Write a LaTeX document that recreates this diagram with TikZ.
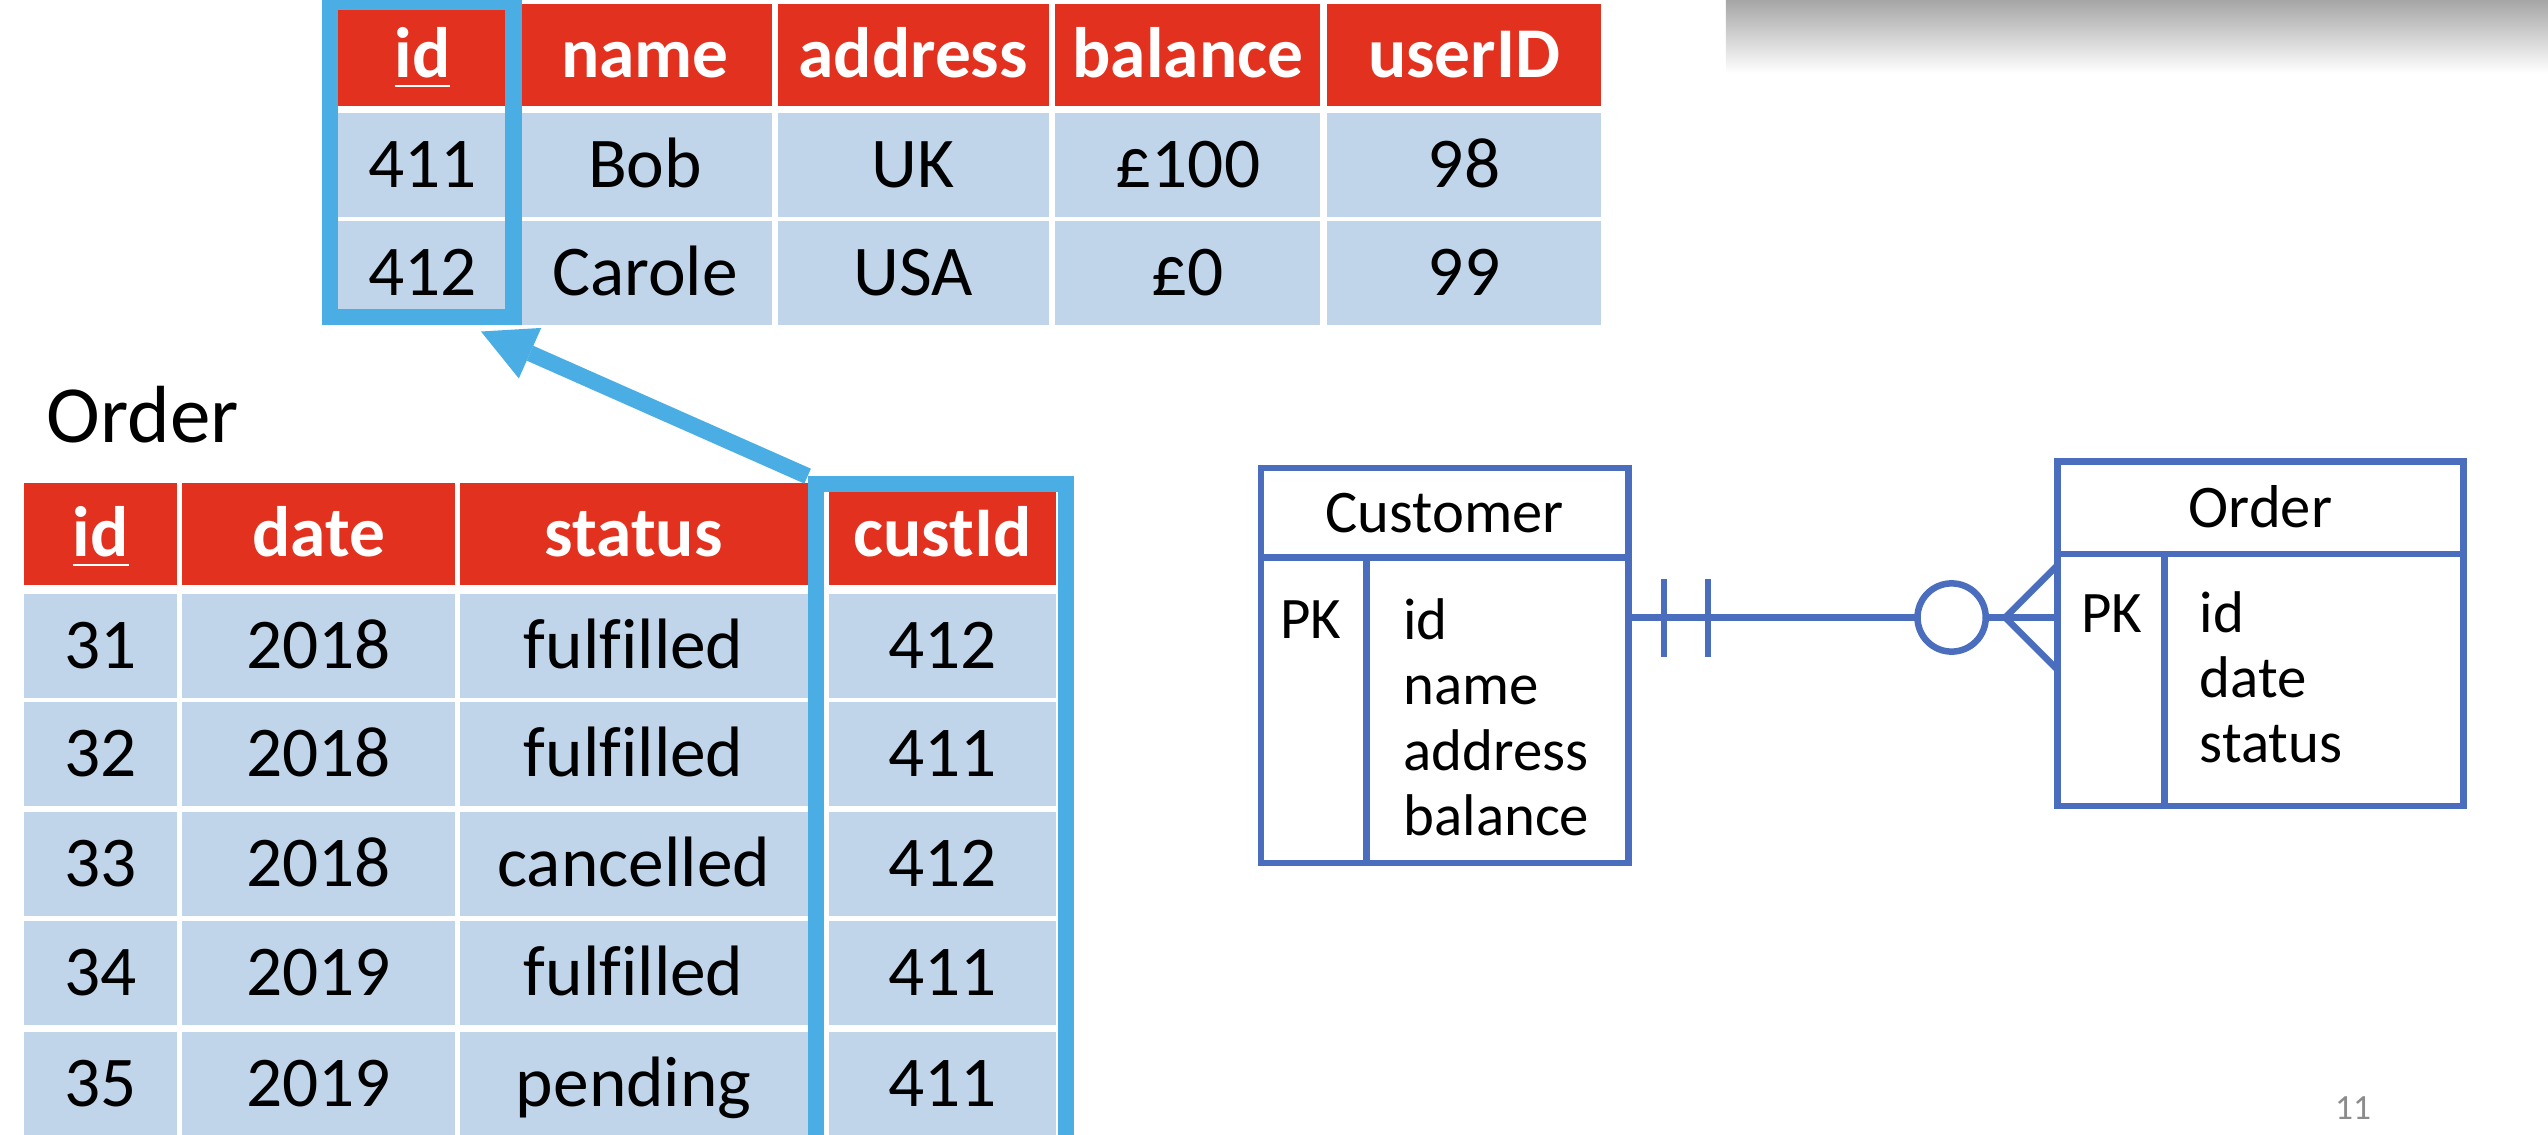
\documentclass[tikz,border=0pt]{standalone}
\usepackage{fontspec}
\setmainfont{Carlito}[Ligatures=CommonOff]
\usetikzlibrary{arrows.meta}
\definecolor{headred}{HTML}{E3311F}
\definecolor{cellblue}{HTML}{C1D5EA}
\definecolor{keyblue}{HTML}{4AADE3}
\definecolor{erblue}{HTML}{4A6DBE}
\definecolor{pagegray}{HTML}{8C8C8C}

\begin{document}
\begin{tikzpicture}[x=0.1mm, y=-0.1mm,
  head/.style = {fill=headred, text=white, font=\fontsize{12.5}{14}\selectfont\bfseries, minimum width=#1*0.1mm, minimum height=6.3mm, inner sep=0, text height=7.9pt, text depth=0pt},
  cell/.style = {fill=cellblue, font=\fontsize{12.5}{14}\selectfont, minimum width=#1*0.1mm, minimum height=6.4mm, inner sep=0, text height=7.9pt, text depth=0pt},
  keyframe/.style = {draw=keyblue, line width=1mm, inner sep=0},
  fkarrow/.style = {draw=keyblue, line width=1mm, -{Triangle[length=3.3mm, width=3.4mm, line width=0pt]}},
  erbox/.style = {draw=erblue, line width=0.4mm, inner sep=0, font=\fontsize{10.6}{12}\selectfont, text height=6.8pt, text depth=0pt},
  ertext/.style = {font=\fontsize{10.3}{12}\selectfont, inner sep=0, anchor=base west},
  erline/.style = {draw=erblue, line width=0.4mm}]
\useasboundingbox (0,0) rectangle (1568,698);
\clip (0,0) rectangle (1568,698);

\shade[top color=black!35, bottom color=white] (1062,0) rectangle (1568,45);

\foreach \x/\w/\t [count=\j] in {260/107/\underline{id}, 397/156/name, 562/167/address, 731/163/balance, 901/169/userID}
  \node[head=\w] (ha\j) at (\x,34) {\t};
\foreach \y/\a/\b/\c/\d/\e [count=\i] in {101.5/411/Bob/UK/£100/98, 168/412/Carole/USA/£0/99} {
  \node[cell=107] (a\i) at (260,\y) {\a};
  \node[cell=156] (b\i) at (397,\y) {\b};
  \node[cell=167] (c\i) at (562,\y) {\c};
  \node[cell=163] (d\i) at (731,\y) {\d};
  \node[cell=169] (e\i) at (901,\y) {\e};
}

\node[font=\fontsize{14.2}{16}\selectfont, inner sep=0, anchor=base west] (olbl) at (28,272) {Order};
\foreach \x/\w/\t [count=\j] in {62/94/\underline{id}, 196/168/date, 390/214/status, 580/140/custId}
  \node[head=\w] (hb\j) at (\x,328.5) {\t};
\foreach \y/\a/\b/\c/\d [count=\i] in {397.5/31/2018/fulfilled/412, 464/32/2018/fulfilled/411, 531.5/33/2018/cancelled/412, 599/34/2019/fulfilled/411, 667/35/2019/pending/411} {
  \node[cell=94] (f\i) at (62,\y) {\a};
  \node[cell=168] (g\i) at (196,\y) {\b};
  \node[cell=214] (h\i) at (390,\y) {\c};
  \node[cell=140] (k\i) at (580,\y) {\d};
}

\node[keyframe, minimum width=11.3mm, minimum height=19.4mm] (fa) at (259.5,98) {};
\node[keyframe, minimum width=15.4mm, minimum height=43.2mm] (fb) at (579,514) {};
\coordinate (tip) at (296,204);
\draw[fkarrow] (fb.north west) -- (tip);

\node[erbox, minimum width=22.6mm, minimum height=5.5mm] (ct) at (889,315.5) {Customer};
\node[erbox, minimum width=6.5mm, minimum height=18.8mm] (cp) at (808.5,437) {};
\node[erbox, minimum width=16.1mm, minimum height=18.8mm] (ca) at (921.5,437) {};
\node[ertext] (cpk) at (787,393) {PK};
\foreach \t [count=\i] in {id, name, address, balance}
  \node[ertext] (cat\i) at (863,{353+40.3*\i}) {\t};

\node[erbox, minimum width=25mm, minimum height=5.7mm] (ot) at (1391,312.5) {Order};
\node[erbox, minimum width=6.6mm, minimum height=15.5mm] (op) at (1299,418.5) {};
\node[erbox, minimum width=18.4mm, minimum height=15.5mm] (oa) at (1424,418.5) {};
\node[ertext] (opk) at (1280,389) {PK};
\foreach \t [count=\i] in {id, date, status}
  \node[ertext] (oat\i) at (1353,{349+40*\i}) {\t};

\coordinate (p) at (1002,380);
\coordinate (q) at (1266,380);
\draw[erline] (p) -- (q);
\draw[erline] (p) ++(22,-24) -- ++(0,48);
\draw[erline] (p) ++(49,-24) -- ++(0,48);
\draw[erline, fill=white] (q) ++(-65,0) circle[radius=2.1mm];
\draw[erline] (q) ++(0,-32) -- ++(-32,32) -- ++(32,32);

\node[font=\fontsize{6.2}{7}\selectfont, text=pagegray, inner sep=0] (pg) at (1448,682) {11};
\end{tikzpicture}
\end{document}
